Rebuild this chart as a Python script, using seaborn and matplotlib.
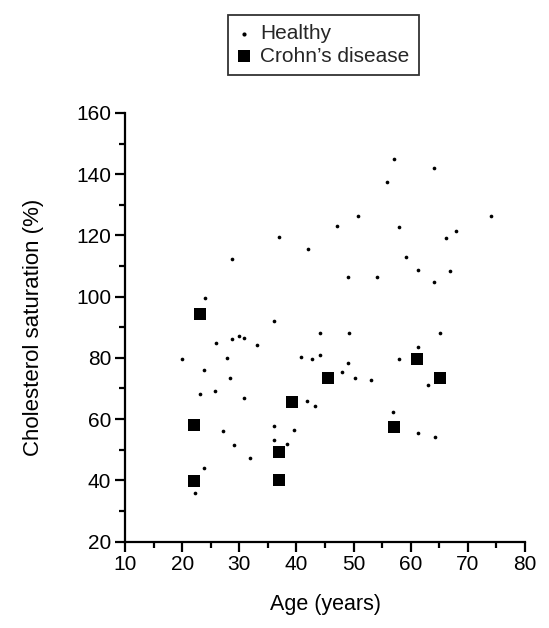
import matplotlib
matplotlib.use("Agg")
import matplotlib.pyplot as plt
import seaborn as sns
import pandas as pd
from matplotlib.ticker import MultipleLocator

healthy_age = [37.0, 42.0, 28.8, 24.0, 36.0, 57.0, 64.1, 55.8, 50.8, 47.1, 57.9, 74.1,
               67.9, 66.2, 59.1, 61.2, 66.8, 49.0, 54.1, 64.1, 44.2, 25.9, 28.8, 29.9,
               30.9, 33.1, 19.9, 27.9, 40.8, 42.8, 44.1, 23.9, 28.3, 25.8, 23.2, 30.9,
               41.9, 43.2, 36.0, 27.1, 39.6, 36.0, 29.1, 38.4, 31.9, 23.8, 22.3, 49.2,
               65.2, 61.2, 58.0, 49.1, 48.0, 50.3, 53.0, 63.1, 56.9, 61.2, 64.2]
healthy_chol = [119.5, 115.7, 112.4, 99.5, 91.9, 145.0, 142.1, 137.3, 126.5, 123.2, 122.9, 126.4,
                121.6, 119.3, 112.8, 108.6, 108.4, 106.4, 106.3, 104.8, 88.0, 84.8, 86.3, 87.3,
                86.4, 84.3, 79.5, 79.9, 80.2, 79.7, 80.8, 75.9, 73.4, 69.2, 68.1, 67.0,
                65.8, 64.2, 57.8, 56.1, 56.5, 53.3, 51.6, 51.9, 47.4, 43.9, 35.9, 88.0,
                88.0, 83.5, 79.5, 78.4, 75.3, 73.4, 72.7, 71.2, 62.2, 55.6, 54.2]

crohn_age = [23.1, 22.0, 22.0, 37.0, 37.0, 39.2, 45.6, 57.0, 61.1, 65.2]
crohn_chol = [94.4, 58.1, 39.8, 49.1, 40.1, 65.7, 73.4, 57.5, 79.6, 73.5]

x_ticks = [10, 20, 30, 40, 50, 60, 70, 80]
y_ticks = [20, 40, 60, 80, 100, 120, 140, 160]

sns.set_theme(style="ticks")
plt.rcParams['font.family'] = ['Liberation Sans', 'DejaVu Sans']
plt.rcParams['font.size'] = 15

fig = plt.figure(figsize=(5.49, 6.28), dpi=100)
ax = fig.add_axes([125/549, 1 - 541.5/628, 400/549, 428.5/628])

df_h = pd.DataFrame({"age": healthy_age, "chol": healthy_chol})
df_c = pd.DataFrame({"age": crohn_age, "chol": crohn_chol})

sns.scatterplot(data=df_h, x="age", y="chol", ax=ax, marker="o", s=7,
                color="black", edgecolor="black", linewidth=0, label="Healthy")
sns.scatterplot(data=df_c, x="age", y="chol", ax=ax, marker="s", s=70,
                color="black", edgecolor="black", linewidth=0, label="Crohn\u2019s disease")

ax.set_xlim(10, 80)
ax.set_ylim(20, 160)
ax.set_xticks(x_ticks)
ax.set_yticks(y_ticks)
ax.xaxis.set_minor_locator(MultipleLocator(5))
ax.yaxis.set_minor_locator(MultipleLocator(10))
ax.tick_params(axis="both", which="major", length=7, width=1.6, color="black",
               labelsize=15, labelcolor="black", direction="out", pad=3)
ax.tick_params(axis="both", which="minor", length=4, width=1.6, color="black", direction="out")
for s in ["top", "right"]:
    ax.spines[s].set_visible(False)
for s in ["left", "bottom"]:
    ax.spines[s].set_linewidth(1.6)
    ax.spines[s].set_color("black")

ax.set_xlabel("Age (years)", fontsize=15.5, color="black", labelpad=14)
ax.set_ylabel("Cholesterol saturation (%)", fontsize=16, color="black", labelpad=23)

ax.get_legend().remove()
handles, labels = ax.get_legend_handles_labels()
leg = fig.legend(handles, labels, loc="upper left", bbox_to_anchor=(228/549, 1 - 15/628),
                 frameon=True, fancybox=False, fontsize=15, handlelength=0.6,
                 handletextpad=0.5, borderpad=0.45, labelspacing=0.15, borderaxespad=0,
                 markerscale=1.0)
leg.get_frame().set_edgecolor("black")
leg.get_frame().set_linewidth(1.3)
for h in leg.legend_handles:
    h.set_color("black")
leg.legend_handles[0].set_sizes([9])
leg.legend_handles[1].set_sizes([70])

fig.savefig("out.png", dpi=100)
